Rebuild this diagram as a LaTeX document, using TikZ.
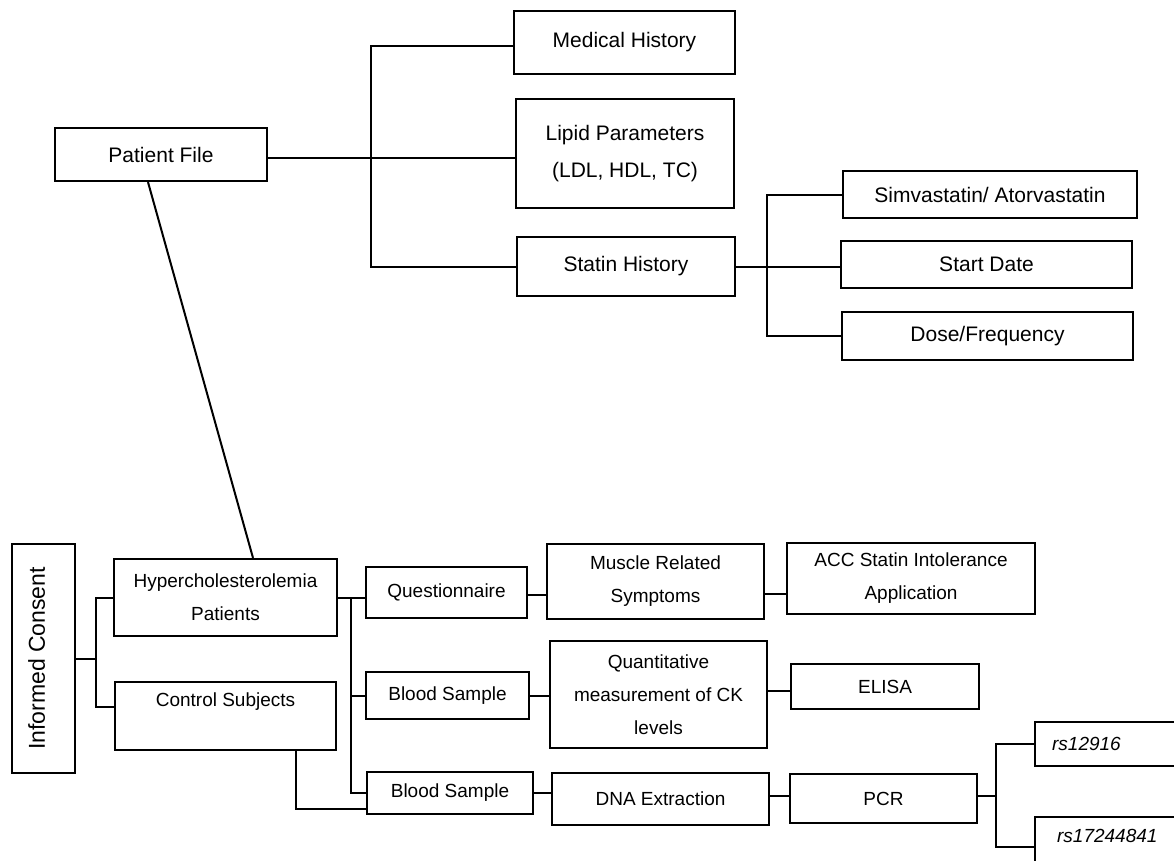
\documentclass[tikz,border=0pt]{standalone}
\usepackage{fontspec}
\setmainfont{Liberation Sans}
\begin{document}
\begin{tikzpicture}[x=1pt,y=-1pt,
  box/.style={draw, line width=2.2pt, inner sep=0pt, align=center},
  bigtxt/.style={font=\fontsize{21}{37}\selectfont},
  smalltxt/.style={font=\fontsize{19}{33}\selectfont},
  conn/.style={line width=2pt}]
\useasboundingbox (0,0) rectangle (1174,860);
\clip (0,0) rectangle (1174,860);
% upper tree
\node[box,bigtxt, minimum width=212, minimum height=53] (pf) at (161,154.5) {Patient File};
\node[box,bigtxt, minimum width=221, minimum height=63] (med) at (624.5,42.5) {Medical History};
\node[box,bigtxt, minimum width=218, minimum height=109] (lip) at (625,153.5) {Lipid Parameters\\(LDL, HDL, TC)};
\node[box,bigtxt, minimum width=218, minimum height=59] (sh) at (626,266.5) {Statin History};
\node[box,bigtxt, minimum width=294, minimum height=47] (sim) at (990,194.5) {Simvastatin/ Atorvastatin};
\node[box,bigtxt, minimum width=291, minimum height=47] (sd) at (986.5,264.5) {Start Date};
\node[box,bigtxt, minimum width=291, minimum height=48] (dose) at (987.5,336) {Dose/Frequency};
% lower tree
\node[box, font=\fontsize{23}{30}\selectfont, rotate=90, minimum width=229, minimum height=63, text depth=14pt] (ic) at (43.5,658.5) {Informed Consent};
\node[box,smalltxt, minimum width=223, minimum height=77] (hyp) at (225.5,597.5) {Hypercholesterolemia\\Patients};
\node[box,smalltxt, minimum width=221, minimum height=68] (ctl) at (225.5,716) {Control Subjects\\\mbox{}};
\node[box,smalltxt, minimum width=161, minimum height=51] (q) at (446.5,592.5) {Questionnaire};
\node[box,smalltxt, minimum width=217, minimum height=75] (mus) at (655.5,581.5) {Muscle Related\\Symptoms};
\node[box,smalltxt, minimum width=248, minimum height=71] (acc) at (911,578.5) {ACC Statin Intolerance\\Application};
\node[box,smalltxt, minimum width=163, minimum height=47] (bs1) at (447.5,695.5) {Blood Sample};
\node[box,smalltxt, minimum width=217, minimum height=107] (qm) at (658.5,694.5) {Quantitative\\measurement of CK\\levels};
\node[box,smalltxt, minimum width=188, minimum height=45] (eli) at (885,686.5) {ELISA};
\node[box,smalltxt, minimum width=166, minimum height=42] (bs2) at (450,793) {Blood Sample};
\node[box,smalltxt, minimum width=217, minimum height=52] (dna) at (660.5,799) {DNA Extraction};
\node[box,smalltxt, minimum width=187, minimum height=49] (pcr) at (883.5,798.5) {PCR};
\node[box,smalltxt, anchor=north west, minimum width=266, minimum height=44, text width=232, align=left] (rs1) at (1034,721) {\itshape rs12916};
\node[box,smalltxt, anchor=north west, minimum width=266, minimum height=71, text width=222, align=left] (rs2) at (1034,816) {\itshape rs17244841\\\mbox{}};
% bus coordinates
\coordinate (b1) at (371,0);
\coordinate (b2) at (766.5,0);
\coordinate (b3) at (96,0);
\coordinate (b4) at (351,0);
\coordinate (b5) at (996,0);
\coordinate (medw) at ([yshift=-3.5pt]med.west);
\coordinate (pfr) at ([yshift=-3.5pt]pf.east);
\coordinate (ctlw) at ([yshift=9pt]ctl.west);
\coordinate (bs2l) at ([yshift=-16pt]bs2.west);
\coordinate (qr) at ([yshift=-2.5pt]q.east);
\coordinate (musr) at ([yshift=-12.5pt]mus.east);
\coordinate (qmr) at ([yshift=3.5pt]qm.east);
\coordinate (dnar) at ([yshift=3pt]dna.east);
\coordinate (pcrr) at ([yshift=2.5pt]pcr.east);
\coordinate (rs2w) at ([yshift=5.5pt]rs2.west);
\coordinate (pfs) at ([xshift=-13pt]pf.south);
\coordinate (hypn) at ([xshift=27.5pt]hyp.north);
% upper connectors
\draw[conn] (medw) -| (b1 |- sh.west) -- (sh.west);
\draw[conn] (pfr) -- (pfr -| lip.west);
\draw[conn] (sim.west) -| (b2 |- dose.west) -- (dose.west);
\draw[conn] (sh.east) -- (sh.east -| sd.west);
\draw[conn] (pfs) -- (hypn);
% lower connectors
\draw[conn] (ic.south) -- (ic.south -| b3);
\draw[conn] (hyp.west) -| (b3 |- ctlw) -- (ctlw);
\draw[conn] (hyp.east) -- (hyp.east -| q.west);
\draw[conn] (hyp.east -| b4) |- (bs2.west);
\draw[conn] (b4 |- bs1.west) -- (bs1.west);
\draw[conn] ([xshift=70.5pt]ctl.south) |- (bs2l);
\draw[conn] (qr) -- (qr -| mus.west);
\draw[conn] (musr) -- (musr -| acc.west);
\draw[conn] (bs1.east) -- (bs1.east -| qm.west);
\draw[conn] (qmr) -- (qmr -| eli.west);
\draw[conn] (bs2.east) -- (bs2.east -| dna.west);
\draw[conn] (dnar) -- (dnar -| pcr.west);
\draw[conn] (pcrr) -- (pcrr -| b5);
\draw[conn] (rs1.west) -| (b5 |- rs2w) -- (rs2w);
\end{tikzpicture}
\end{document}
